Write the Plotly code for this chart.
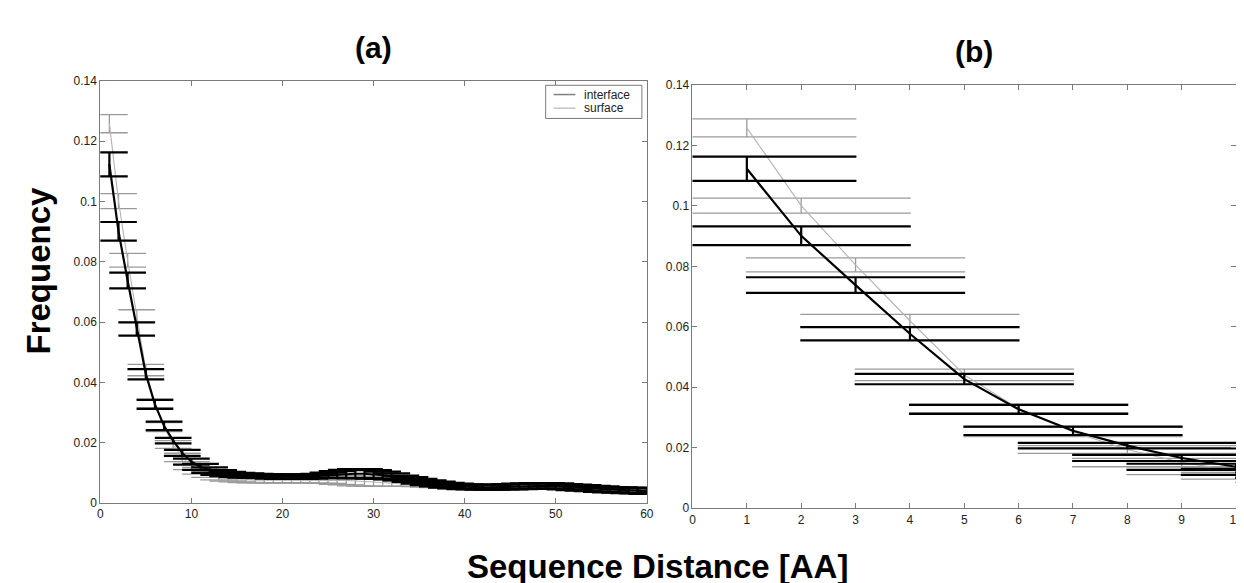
import plotly.graph_objects as go

# ---------------- data ----------------
distance = list(range(1, 61))

interface_freq = [
    0.1123, 0.0901, 0.0738, 0.0577, 0.0427, 0.0327, 0.0256, 0.0207, 0.0166, 0.0137,
    0.0120, 0.0109, 0.0101, 0.0096, 0.0093, 0.0091, 0.0090, 0.0089, 0.0088, 0.0087,
    0.0087, 0.0087, 0.0088, 0.0090, 0.0092, 0.0094, 0.0096, 0.0097, 0.0097, 0.0095,
    0.0092, 0.0088, 0.0083, 0.0078, 0.0072, 0.0067, 0.0063, 0.0059, 0.0056, 0.0054,
    0.0053, 0.0052, 0.0052, 0.0053, 0.0054, 0.0055, 0.0056, 0.0057, 0.0057, 0.0056,
    0.0054, 0.0052, 0.0050, 0.0048, 0.0046, 0.0044, 0.0043, 0.0042, 0.0041, 0.0039,
]
interface_err = [
    0.0040, 0.0031, 0.0026, 0.0022, 0.0017, 0.0015, 0.0014, 0.0009, 0.0010, 0.0010,
    0.0010, 0.0009, 0.0008, 0.0007, 0.0007, 0.0007, 0.0007, 0.0007, 0.0007, 0.0007,
    0.0007, 0.0007, 0.0007, 0.0007, 0.0009, 0.0012, 0.0014, 0.0015, 0.0015, 0.0014,
    0.0012, 0.0010, 0.0008, 0.0008, 0.0008, 0.0008, 0.0008, 0.0008, 0.0008, 0.0008,
    0.0008, 0.0008, 0.0008, 0.0008, 0.0009, 0.0009, 0.0009, 0.0009, 0.0009, 0.0009,
    0.0009, 0.0009, 0.0009, 0.0009, 0.0009, 0.0009, 0.0009, 0.0009, 0.0009, 0.0009,
]
surface_freq = [
    0.1258, 0.1001, 0.0805, 0.0620, 0.0441, 0.0330, 0.0252, 0.0194, 0.0151, 0.0124,
    0.0107, 0.0095, 0.0087, 0.0082, 0.0079, 0.0077, 0.0076, 0.0076, 0.0076, 0.0076,
    0.0076, 0.0076, 0.0076, 0.0077, 0.0077, 0.0076, 0.0075, 0.0073, 0.0072, 0.0070,
    0.0068, 0.0066, 0.0064, 0.0062, 0.0060, 0.0058, 0.0056, 0.0054, 0.0052, 0.0051,
    0.0051, 0.0050, 0.0050, 0.0051, 0.0052, 0.0053, 0.0054, 0.0055, 0.0055, 0.0054,
    0.0052, 0.0050, 0.0048, 0.0046, 0.0044, 0.0042, 0.0041, 0.0040, 0.0039, 0.0037,
]
surface_err = [
    0.0030, 0.0025, 0.0023, 0.0021, 0.0019, 0.0014, 0.0015, 0.0013, 0.0014, 0.0013,
    0.0011, 0.0010, 0.0010, 0.0009, 0.0009, 0.0009, 0.0009, 0.0009, 0.0009, 0.0009,
    0.0009, 0.0009, 0.0010, 0.0011, 0.0012, 0.0014, 0.0015, 0.0016, 0.0016, 0.0015,
    0.0013, 0.0011, 0.0009, 0.0007, 0.0006, 0.0005, 0.0005, 0.0005, 0.0005, 0.0005,
    0.0005, 0.0005, 0.0005, 0.0005, 0.0005, 0.0005, 0.0005, 0.0005, 0.0005, 0.0005,
    0.0005, 0.0005, 0.0005, 0.0005, 0.0005, 0.0005, 0.0005, 0.0005, 0.0005, 0.0005,
]

y_ticks = [0, 0.02, 0.04, 0.06, 0.08, 0.10, 0.12, 0.14]
y_ticktext = ["0", "0.02", "0.04", "0.06", "0.08", "0.1", "0.12", "0.14"]
xa_ticks = [0, 10, 20, 30, 40, 50, 60]
xb_ticks = list(range(0, 11))

series_names = ["interface", "surface"]
panel_titles = ["(a)", "(b)"]

# ---------------- layout geometry ----------------
W, H = 1244, 583
A_X = (90, 641)
A_Y = (67.5, 500)
B_X = (687, 1235)
B_Y = (71.7, 505.3)
XA_RANGE = [0, 60]
XB_RANGE = [0, 10]
CAP_HALF_UNITS = 2.0  # errorbar cap half-length in data units (as in the original)


def px_dom_x(a):
    return [a[0] / W, a[1] / W]


def px_dom_y(a):
    return [1 - a[1] / H, 1 - a[0] / H]


cap_a = CAP_HALF_UNITS * (A_X[1] - A_X[0]) / (XA_RANGE[1] - XA_RANGE[0])
cap_b = CAP_HALF_UNITS * (B_X[1] - B_X[0]) / (XB_RANGE[1] - XB_RANGE[0])

BLACK = "#000000"
SURF_LINE = "#b4b4b4"
SURF_ERR = "#9a9a9a"

fig = go.Figure()

for xa, ya, cap in (("x", "y", cap_a), ("x2", "y2", cap_b)):
    fig.add_trace(go.Scatter(
        x=distance, y=surface_freq, mode="lines", xaxis=xa, yaxis=ya,
        line=dict(color=SURF_LINE, width=1.1),
        error_y=dict(type="data", array=surface_err, color=SURF_ERR,
                     thickness=1.3, width=cap),
        showlegend=False, hoverinfo="skip"))
    fig.add_trace(go.Scatter(
        x=distance, y=interface_freq, mode="lines", xaxis=xa, yaxis=ya,
        line=dict(color=BLACK, width=2.2),
        error_y=dict(type="data", array=interface_err, color=BLACK,
                     thickness=2.2, width=cap),
        showlegend=False, hoverinfo="skip"))

TICKFONT = dict(family="Liberation Sans, Arial, sans-serif", size=12, color="#222222")
AXCOL = "#7a7a7a"
common_axis = dict(showline=True, linecolor=AXCOL, linewidth=1, mirror="ticks",
                   ticks="inside", ticklen=5, tickcolor=AXCOL, tickwidth=1,
                   showgrid=False, zeroline=False, tickfont=TICKFONT)

fig.update_layout(
    width=W, height=H,
    margin=dict(l=0, r=0, t=0, b=0),
    paper_bgcolor="white", plot_bgcolor="white",
    showlegend=False,
    xaxis=dict(domain=px_dom_x(A_X), anchor="y", range=XA_RANGE,
               tickvals=xa_ticks, ticktext=[str(v) for v in xa_ticks], **common_axis),
    yaxis=dict(domain=px_dom_y(A_Y), anchor="x", range=[0, 0.14],
               tickvals=y_ticks, ticktext=y_ticktext, **common_axis),
    xaxis2=dict(domain=px_dom_x(B_X), anchor="y2", range=XB_RANGE,
                tickvals=xb_ticks, ticktext=[str(v) for v in xb_ticks], **common_axis),
    yaxis2=dict(domain=px_dom_y(B_Y), anchor="x2", range=[0, 0.14],
                tickvals=y_ticks, ticktext=y_ticktext, **common_axis),
)

BOLD = "Liberation Sans, Arial, sans-serif"
ann = []
ann.append(dict(text="<b>%s</b>" % panel_titles[0], x=365 / W, y=1 - 33 / H,
                xref="paper", yref="paper", xanchor="center", yanchor="middle",
                showarrow=False, font=dict(family=BOLD, size=30, color="black")))
ann.append(dict(text="<b>%s</b>" % panel_titles[1], x=971 / W, y=1 - 37 / H,
                xref="paper", yref="paper", xanchor="center", yanchor="middle",
                showarrow=False, font=dict(family=BOLD, size=30, color="black")))
ann.append(dict(text="<b>Frequency</b>", x=28 / W, y=1 - 262 / H, textangle=-90,
                xref="paper", yref="paper", xanchor="center", yanchor="middle",
                showarrow=False, font=dict(family=BOLD, size=33, color="black")))
ann.append(dict(text="<b>Sequence Distance [AA]</b>", x=652 / W, y=1 - 565 / H,
                xref="paper", yref="paper", xanchor="center", yanchor="middle",
                showarrow=False, font=dict(family=BOLD, size=33, color="black")))

# legend box (drawn manually to match the original compact MATLAB legend)
LEG = dict(x0=539, x1=636, y0=72, y1=106)
legend_colors = ["#808080", "#c4c4c4"]
legend_rows = [81.5, 95.5]
shapes = [dict(type="rect", xref="paper", yref="paper",
               x0=LEG["x0"] / W, x1=LEG["x1"] / W, y0=1 - LEG["y1"] / H, y1=1 - LEG["y0"] / H,
               line=dict(color="#7a7a7a", width=1), fillcolor="white", layer="above")]
for name, col, ry in zip(series_names, legend_colors, legend_rows):
    shapes.append(dict(type="line", xref="paper", yref="paper",
                       x0=547 / W, x1=569 / W, y0=1 - ry / H, y1=1 - ry / H,
                       line=dict(color=col, width=1.5), layer="above"))
    ann.append(dict(text=name, x=576 / W, y=1 - ry / H, xref="paper", yref="paper",
                    xanchor="left", yanchor="middle", showarrow=False,
                    font=dict(family=BOLD, size=12, color="#222222")))

fig.update_layout(annotations=ann, shapes=shapes)

fig.write_html("out.html")
